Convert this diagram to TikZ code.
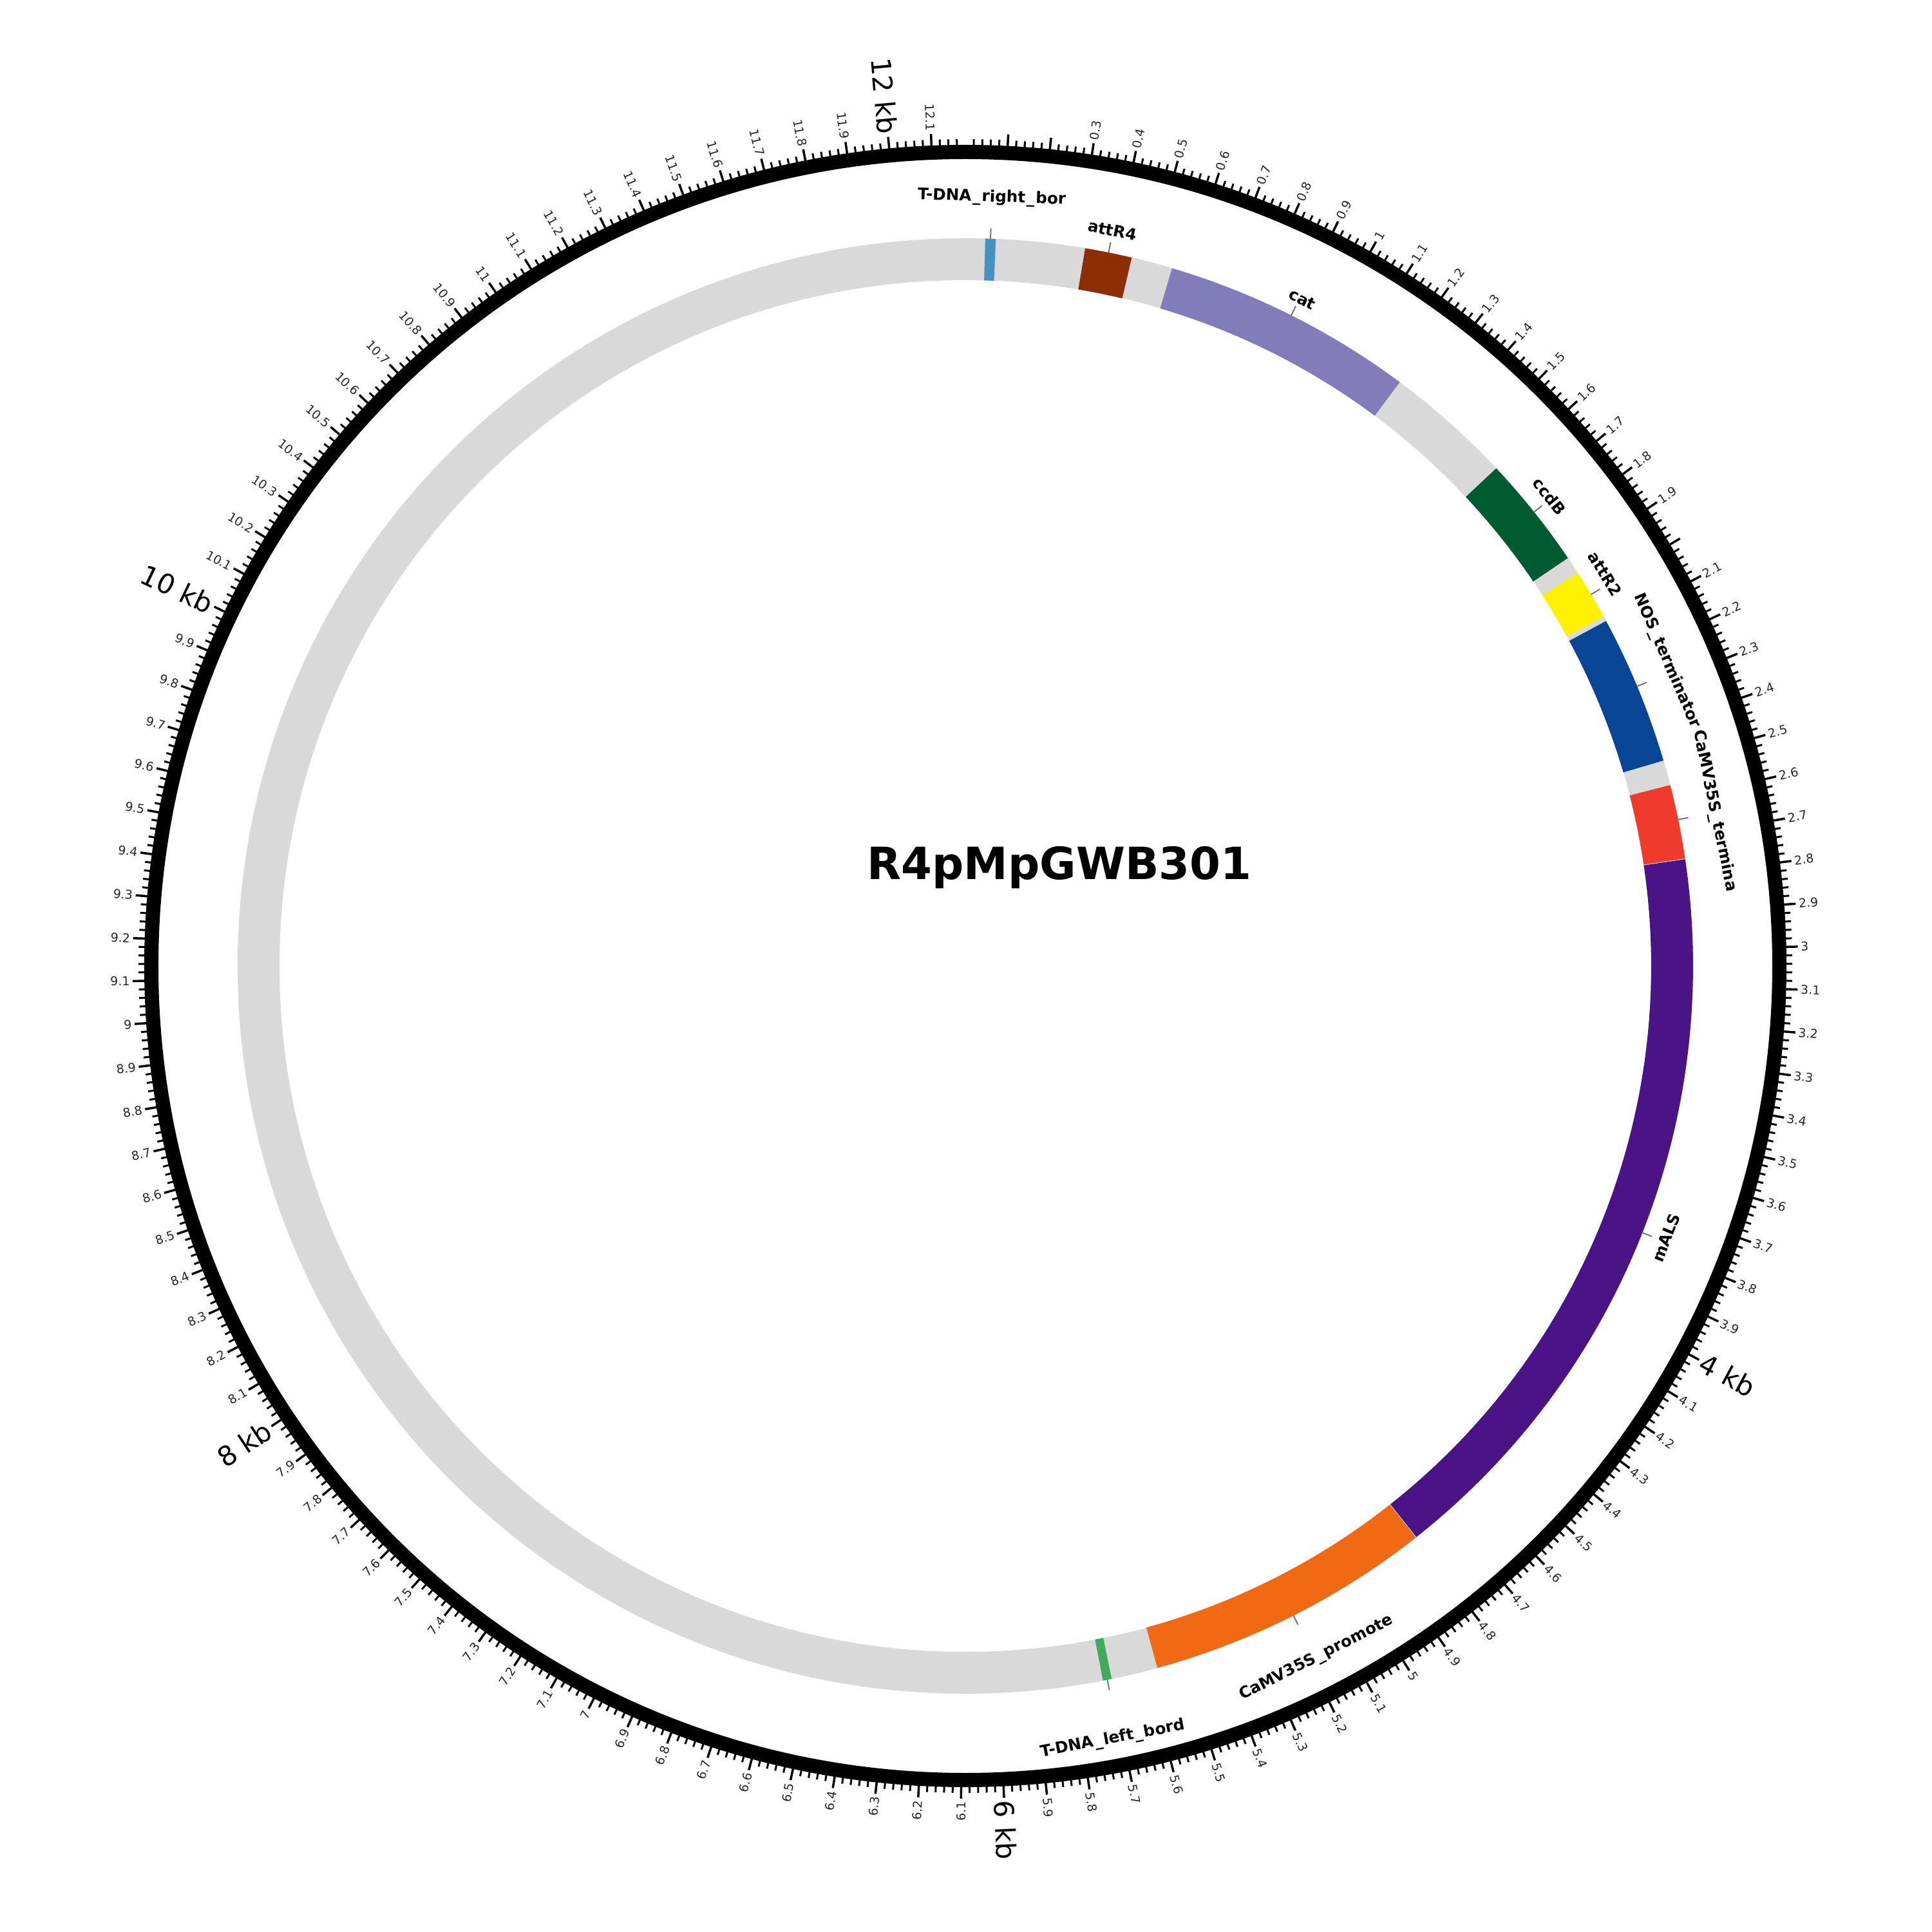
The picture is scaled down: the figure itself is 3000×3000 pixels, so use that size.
\documentclass[tikz,border=0pt]{standalone}
\usepackage{fontspec}
\setmainfont{DejaVu Sans}
\definecolor{bandgray}{HTML}{D9D9D9}
\definecolor{cRB}{HTML}{4292C6}
\definecolor{cR4}{HTML}{8C2D04}
\definecolor{cCat}{HTML}{807DBA}
\definecolor{cCcdB}{HTML}{005A32}
\definecolor{cR2}{HTML}{FFF200}
\definecolor{cNOS}{HTML}{084594}
\definecolor{cTerm}{HTML}{EF3B2C}
\definecolor{cALS}{HTML}{4A1486}
\definecolor{cProm}{HTML}{F16913}
\definecolor{cLB}{HTML}{41AB5D}
\newcommand\featsec[3]{\fill[#3] ({90-(#1)}:1130) arc[start angle={90-(#1)}, end angle={90-(#2)}, radius=1130] -- ({90-(#2)}:1065) arc[start angle={90-(#2)}, end angle={90-(#1)}, radius=1065] -- cycle;}
\newcommand\us{\kern0.08em\_\kern0.08em}
\tikzset{
  ringline/.style={line width=0.22cm},
  minortick/.style={line width=0.03cm},
  majortick/.style={line width=0.035cm},
  ticklabel/.style={font=\fontsize{5.4}{6}\selectfont, text=black!85, inner sep=0pt},
  kblabel/.style={font=\fontsize{12}{14}\selectfont, text=black, inner sep=0pt},
  featlabel/.style={font=\bfseries\fontsize{7}{8}\selectfont, inner sep=0pt},
  leader/.style={draw=black!55, line width=0.02cm},
}
\begin{document}
\begin{tikzpicture}[x=0.01cm, y=0.01cm]
\useasboundingbox (-1499,-1500) rectangle (1501,1500);
% outer ring
\draw[ringline] (0,0) circle[radius=1264];
% ticks
\foreach \i in {1,...,608}{
  \pgfmathsetmacro\ang{90-\i*20/12180*360}
  \pgfmathtruncatemacro\ismaj{mod(\i,5)==0 ? 1 : 0}
  \ifnum\ismaj=1
    \draw[majortick] (\ang:1272) -- (\ang:1293);
  \else
    \draw[minortick] (\ang:1272) -- (\ang:1284);
  \fi
}
% tick labels
\foreach \k in {3,...,121}{
  \pgfmathsetmacro\th{\k*100/12180*360}
  \pgfmathtruncatemacro\ip{(\k+0.5)/10}
  \pgfmathtruncatemacro\dd{\k-10*\ip}
  \pgfmathtruncatemacro\rhs{\th<=180 ? 1 : 0}
  \pgfmathtruncatemacro\ev{mod(\ip,2)==0 ? 1 : 0}
  \ifnum\rhs=1
    \pgfmathsetmacro\rot{90-\th}\def\anc{west}
  \else
    \pgfmathsetmacro\rot{270-\th}\def\anc{east}
  \fi
  \ifnum\k=20\relax\else
    \ifnum\dd=0
      \ifnum\ev=1
        \node[kblabel, rotate=\rot, anchor=\anc] (tl\k) at ({90-\th}:1297) {\ip\ kb};
      \else
        \node[ticklabel, rotate=\rot, anchor=\anc] (tl\k) at ({90-\th}:1297) {\ip};
      \fi
    \else
      \node[ticklabel, rotate=\rot, anchor=\anc] (tl\k) at ({90-\th}:1297) {\ip.\dd};
    \fi
  \fi
}
% feature band
\fill[bandgray, even odd rule] (0,0) circle[radius=1130] (0,0) circle[radius=1065];
\featsec{1.57}{2.40}{cRB}
\featsec{9.48}{13.22}{cR4}
\featsec{16.5}{36.65}{cCat}
\featsec{46.85}{55.9}{cCcdB}
\featsec{57.3}{61.3}{cR2}
\featsec{61.7}{73.6}{cNOS}
\featsec{75.6}{81.5}{cTerm}
\featsec{81.56}{141.7}{cALS}
\featsec{141.76}{164.7}{cProm}
\featsec{168.4}{169.1}{cLB}
% leaders
\foreach \nm/\a in {RB/1.98, R4/11.35, Cat/26.6, CcdB/51.4, R2/59.3, NOS/67.4, Term/78.4, ALS/111.5, Prom/153.2, LB/168.75}{
  \coordinate (a\nm) at ({90-\a}:1130);
  \coordinate (b\nm) at ({90-\a}:1146);
  \draw[leader] (a\nm) -- (b\nm);
}
% feature labels
\node[featlabel, rotate=-1.97] (lRB) at ({90-1.97}:1194) {T-DNA\us right\us bor};
\node[featlabel, rotate=-11.3] (lR4) at ({90-11.3}:1165) {attR4};
\node[featlabel, rotate=-26.8] (lCat) at ({90-26.8}:1160) {cat};
\node[featlabel, rotate=-51.2] (lCcdB) at ({90-51.2}:1164) {ccdB};
\node[featlabel, rotate=-58.5] (lR2) at ({90-58.5}:1165) {attR2};
\node[featlabel, rotate=-66.5] (lNOS) at ({90-66.5}:1188) {NOS\us terminator};
\node[featlabel, rotate=-78.3] (lTerm) at ({90-78.3}:1188) {CaMV35S\us termina};
\node[featlabel, rotate=68.8] (lALS) at ({90-111.2}:1167) {mALS};
\node[featlabel, rotate=26.9] (lProm) at ({90-153.1}:1205) {CaMV35S\us promote};
\node[featlabel, rotate=10.8] (lLB) at ({90-169.2}:1222) {T-DNA\us left\us bord};
% title
\node[font=\bfseries\fontsize{19.6}{22}\selectfont] (title) at (146,153) {R4pMpGWB301};
\end{tikzpicture}
\end{document}
